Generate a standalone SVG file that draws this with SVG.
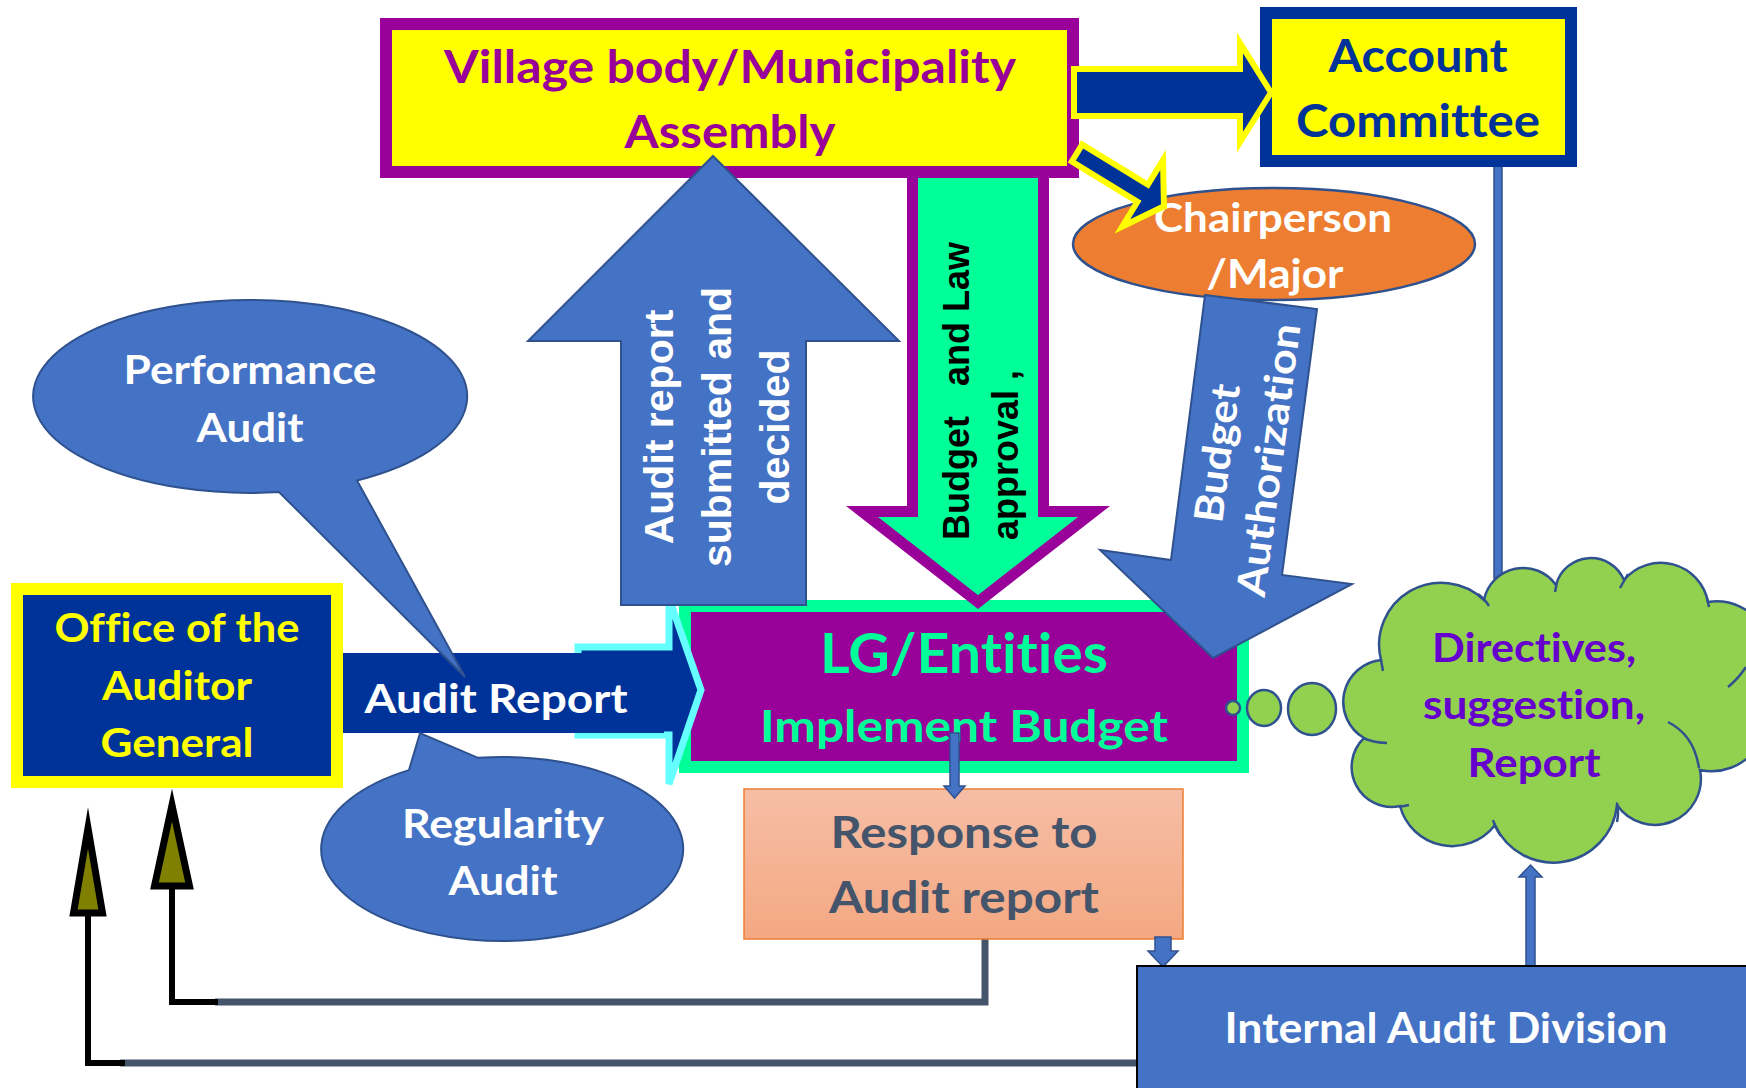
<svg xmlns="http://www.w3.org/2000/svg" width="1746" height="1088" viewBox="0 0 1746 1088">
<defs>
<linearGradient id="respGrad" x1="0" y1="0" x2="0" y2="1">
<stop offset="0" stop-color="#F6BEA6"/>
<stop offset="1" stop-color="#F4A882"/>
</linearGradient>
<style>
.cal{font-family:Lato,"Open Sans","Noto Sans",sans-serif;font-weight:bold;text-anchor:middle;font-variant-ligatures:none;font-feature-settings:"liga" 0,"clig" 0}
.ari{font-family:"Liberation Sans",Arial,sans-serif;font-weight:bold}
.blue{fill:#4472C4;stroke:#2F528F;stroke-width:2}
.thin{fill:#4472C4;stroke:#2F528F;stroke-width:1.5}
.fb{fill:none;stroke:#44546A;stroke-width:7}
.blk{fill:none;stroke:#000;stroke-width:6}
.head{fill:#808000;stroke:#000;stroke-width:7;stroke-miterlimit:10}
.cloud{fill:#92D050;stroke:#2F528F;stroke-width:2.5}
.inner{fill:none;stroke:#2F528F;stroke-width:2.5}
</style>
</defs>

<g id="connectors">
<path class="fb" d="M985,927 V1002 H215"/>
<path class="blk" d="M218,1002 H172 V886"/>
<polygon class="head" points="154.5,886 189.5,886 172,805"/>
<path class="fb" d="M1150,1063 H120"/>
<path class="blk" d="M125,1063 H88 V913"/>
<polygon class="head" points="73.5,913 102.5,913 88,828"/>
<rect class="thin" x="1494" y="160" width="8" height="418"/>
</g>

<g id="lg-entities">
<rect x="679" y="600" width="570" height="173" fill="#00FF99"/>
<rect x="691" y="612" width="546" height="149" fill="#990099"/>
<text class="cal" x="964" y="673" font-size="56" fill="#00FF99" textLength="288" lengthAdjust="spacingAndGlyphs">LG/Entities</text>
<text class="cal" x="964" y="742" font-size="44" fill="#00FF99" textLength="408" lengthAdjust="spacingAndGlyphs">Implement Budget</text>
</g>

<g id="budget-law-arrow">
<path d="M912.5,172 L1043.5,172 L1043.5,511.5 L1094,511.5 L978,602 L862,511.5 L912.5,511.5 Z" fill="#00FF99" stroke="#990099" stroke-width="11"/>
<g transform="translate(969,540) rotate(-90)">
<text class="ari" x="0" y="0" font-size="36" fill="#000" xml:space="preserve">Budget   and Law</text>
<text class="ari" x="0" y="49" font-size="36" fill="#000">approval ,</text>
</g>
</g>

<g id="village-assembly">
<rect x="386" y="24" width="687" height="148" fill="#FFFF00" stroke="#990099" stroke-width="12"/>
<text class="cal" x="730" y="83" font-size="46" fill="#990099" textLength="572" lengthAdjust="spacingAndGlyphs">Village body/Municipality</text>
<text class="cal" x="730" y="148" font-size="46" fill="#990099" textLength="211" lengthAdjust="spacingAndGlyphs">Assembly</text>
</g>

<g id="account-committee">
<rect x="1266" y="13" width="305" height="148" fill="#FFFF00" stroke="#003399" stroke-width="12"/>
<text class="cal" x="1418" y="72" font-size="45" fill="#003399" textLength="179" lengthAdjust="spacingAndGlyphs">Account</text>
<text class="cal" x="1418" y="137" font-size="45" fill="#003399" textLength="244" lengthAdjust="spacingAndGlyphs">Committee</text>
</g>

<g id="arrow-to-account">
<path d="M1074,69 L1240,69 L1240,43 L1271,92.5 L1240,142 L1240,116 L1074,116 Z" fill="#003399" stroke="#FFFF00" stroke-width="6"/>
</g>

<g id="chairperson">
<ellipse cx="1274" cy="244" rx="201" ry="56" fill="#ED7D31" stroke="#2F528F" stroke-width="2.5"/>
<text class="cal" x="1273" y="232" font-size="40" fill="#FFFFFF" textLength="238" lengthAdjust="spacingAndGlyphs">Chairperson</text>
<text class="cal" x="1275" y="288" font-size="40" fill="#FFFFFF" textLength="137" lengthAdjust="spacingAndGlyphs">/Major</text>
</g>

<g id="arrow-to-chair">
<polygon transform="translate(1077,153) rotate(31.5)" points="0,-10 77,-10 77,-39 102,0 77,39 77,10 0,10" fill="#003399" stroke="#FFFF00" stroke-width="6"/>
</g>

<g id="audit-report-arrow">
<path d="M578,647 L669,647 L669,598 L701,690 L669,784 L669,735 L578,735 Z" fill="#003399" stroke="#66FFFF" stroke-width="7"/>
<rect x="336" y="653" width="328" height="80" fill="#003399"/>
<text class="cal" x="496" y="713" font-size="41" fill="#FFFFFF" textLength="263" lengthAdjust="spacingAndGlyphs">Audit Report</text>
</g>

<g id="audit-submitted-arrow">
<path class="blue" d="M713,156 L899,341 L806,341 L806,605 L621,605 L621,341 L528,341 Z"/>
<g transform="translate(731,427) rotate(-90)">
<text class="ari" x="0" y="-58" font-size="41" fill="#FFFFFF" text-anchor="middle">Audit report</text>
<text class="ari" x="0" y="0" font-size="41" fill="#FFFFFF" text-anchor="middle">submitted and</text>
<text class="ari" x="0" y="58" font-size="41" fill="#FFFFFF" text-anchor="middle">decided</text>
</g>
</g>

<g id="budget-authorization-arrow">
<path class="blue" d="M1205,295 L1317,309 L1282,575 L1352,584 L1213,658 L1100,550 L1171,560 Z"/>
<g transform="translate(1231,455) rotate(-82.5)">
<text class="cal" x="0" y="0" font-size="40" fill="#FFFFFF" textLength="139" lengthAdjust="spacingAndGlyphs">Budget</text>
<text class="cal" x="0" y="52" font-size="40" fill="#FFFFFF" textLength="275" lengthAdjust="spacingAndGlyphs">Authorization</text>
</g>
</g>

<g id="office-auditor-general">
<rect x="17" y="589" width="320" height="193" fill="#003399" stroke="#FFFF00" stroke-width="12"/>
<text class="cal" x="177" y="642" font-size="41" fill="#FFFF00" textLength="245" lengthAdjust="spacingAndGlyphs">Office of the</text>
<text class="cal" x="177" y="700" font-size="41" fill="#FFFF00" textLength="150" lengthAdjust="spacingAndGlyphs">Auditor</text>
<text class="cal" x="177" y="757" font-size="41" fill="#FFFF00" textLength="153" lengthAdjust="spacingAndGlyphs">General</text>
</g>

<g id="performance-audit">
<path class="blue" d="M357,480.45 L465,677 L279,492.1 A217,96.5 0 1 1 357,480.45 Z"/>
<text class="cal" x="250" y="384" font-size="40" fill="#FFFFFF" textLength="253" lengthAdjust="spacingAndGlyphs">Performance</text>
<text class="cal" x="250" y="442" font-size="40" fill="#FFFFFF" textLength="107" lengthAdjust="spacingAndGlyphs">Audit</text>
</g>

<g id="regularity-audit">
<path class="blue" d="M409,770.1 L420,733 L478,757.8 A181,92 0 1 1 409,770.1 Z"/>
<text class="cal" x="503" y="838" font-size="40" fill="#FFFFFF" textLength="202" lengthAdjust="spacingAndGlyphs">Regularity</text>
<text class="cal" x="503" y="895" font-size="40" fill="#FFFFFF" textLength="109" lengthAdjust="spacingAndGlyphs">Audit</text>
</g>

<g id="thought-bubbles">
<ellipse class="cloud" cx="1233" cy="708" rx="7" ry="7"/>
<ellipse class="cloud" cx="1264" cy="708" rx="17" ry="18"/>
<ellipse class="cloud" cx="1312" cy="709" rx="24" ry="26"/>
</g>

<g id="directives-cloud">
<path class="cloud" d="M1381,660 A62,62 0 0 1 1484,600 A40,40 0 0 1 1556,585 A36,36 0 0 1 1624,580 A48,48 0 0 1 1708,602 A55,55 0 0 1 1760,690 A55,55 0 0 1 1700,770 A46,46 0 0 1 1617,805 A64,64 0 0 1 1495,825 A54,54 0 0 1 1400,806 A40,40 0 0 1 1364,738 A42,42 0 0 1 1381,660 Z"/>
<path class="inner" d="M1381,660 L1383,671 M1478,594 Q1484,598 1489,606 M1557,582 L1555,592 M1628,574 L1620,588 M1707,598 L1709,607 M1728,687 Q1738,679 1746,667 M1668,722 Q1694,735 1699,768 M1617,803 Q1619,812 1617,822 M1493,820 Q1496,830 1501,836 M1399,807 L1409,805 M1363,738 Q1375,743 1387,743"/>
<text class="cal" x="1534" y="662" font-size="40" fill="#6600CC" textLength="204" lengthAdjust="spacingAndGlyphs">Directives,</text>
<text class="cal" x="1534" y="719" font-size="40" fill="#6600CC" textLength="222" lengthAdjust="spacingAndGlyphs">suggestion,</text>
<text class="cal" x="1534" y="777" font-size="40" fill="#6600CC" textLength="133" lengthAdjust="spacingAndGlyphs">Report</text>
</g>

<g id="response-to-audit-report">
<rect x="744" y="789" width="439" height="150" fill="url(#respGrad)" stroke="#ED7D31" stroke-width="1.5"/>
<text class="cal" x="964" y="848" font-size="43" fill="#44546A" textLength="267" lengthAdjust="spacingAndGlyphs">Response to</text>
<text class="cal" x="964" y="913" font-size="43" fill="#44546A" textLength="270" lengthAdjust="spacingAndGlyphs">Audit report</text>
</g>

<g id="small-arrows">
<path class="thin" d="M950,733 L959,733 L959,786 L965,786 L954.5,798 L944,786 L950,786 Z"/>
<path class="thin" d="M1155,937 L1171,937 L1171,951 L1178,951 L1163,967 L1148,951 L1155,951 Z"/>
<path class="thin" d="M1526,966 L1526,877 L1519,877 L1530.5,865 L1542,877 L1535,877 L1535,966 Z"/>
</g>

<g id="internal-audit-division">
<rect x="1137" y="966" width="620" height="130" fill="#4472C4" stroke="#000" stroke-width="2"/>
<text class="cal" x="1446" y="1043" font-size="42" fill="#FFFFFF" textLength="443" lengthAdjust="spacingAndGlyphs">Internal Audit Division</text>
</g>
</svg>
